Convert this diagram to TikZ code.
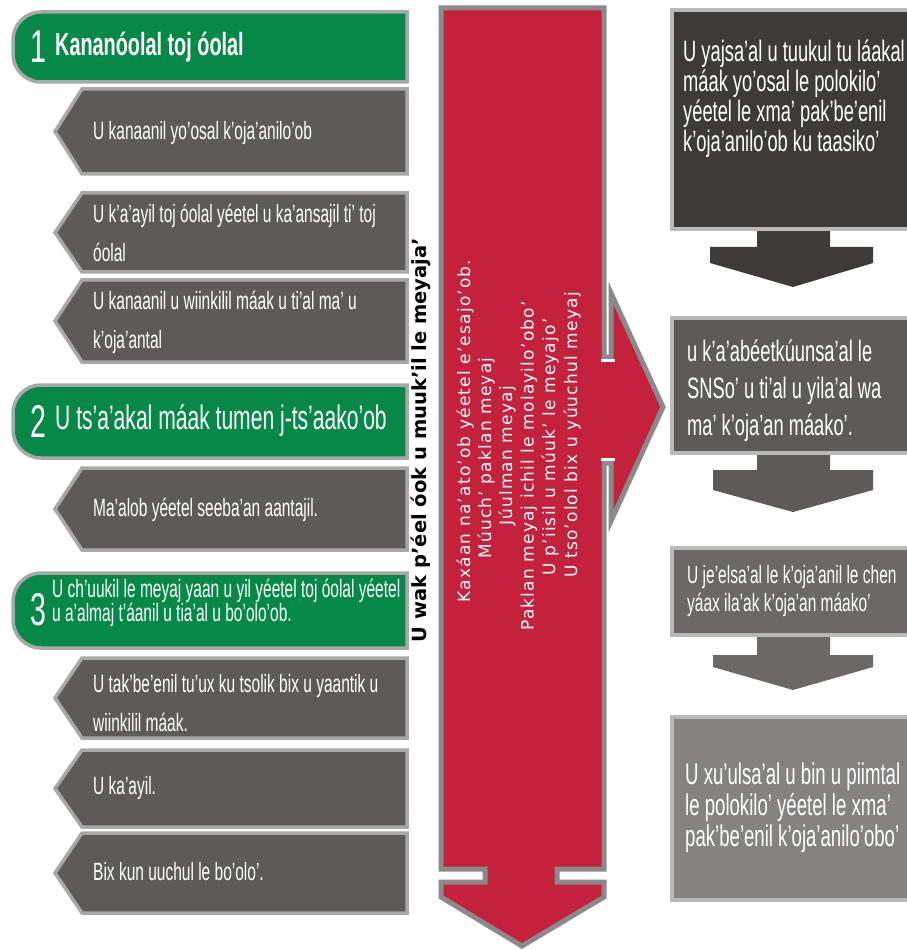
\documentclass[tikz,border=0pt]{standalone}
\usepackage{fontspec}
\setmainfont{Liberation Sans}
\newfontfamily\narrowf{Liberation Sans}[FakeStretch=0.62]
\newfontfamily\dejaf{DejaVu Sans}
\newfontfamily\dejasp{DejaVu Sans}[LetterSpace=7]
\definecolor{hgreen}{RGB}{6,137,72}
\definecolor{edgegray}{RGB}{168,168,168}
\definecolor{lgray}{RGB}{94,90,89}
\definecolor{redfill}{RGB}{196,33,60}
\definecolor{rededge}{RGB}{138,138,138}
\definecolor{rone}{RGB}{62,58,57}
\definecolor{rtwo}{RGB}{94,90,89}
\definecolor{rthree}{RGB}{108,104,103}
\definecolor{rfour}{RGB}{133,131,130}
\definecolor{redge}{RGB}{185,185,185}
\begin{document}
\begin{tikzpicture}[x=1pt,y=-1pt,
  greenbox/.style={fill=hgreen, draw=edgegray, line width=3.5pt},
  graybox/.style={fill=lgray, draw=edgegray, line width=3.5pt},
  redarrow/.style={fill=redfill, draw=rededge, line width=5pt},
  rbox/.style={draw=redge, line width=3.5pt},
  wtext/.style={text=white, inner sep=0pt, anchor=west, align=left},
  gtext/.style={wtext, font=\narrowf\fontsize{25}{39}\selectfont},
  rtxt/.style={text=white, inner sep=0pt, rotate=90, font=\dejasp\fontsize{17}{19}\selectfont},
  digit/.style={text=white, inner sep=0pt, font=\narrowf\fontsize{46}{46}\selectfont}
]
\useasboundingbox (0,0) rectangle (906,949);
\fill[white] (0,0) rectangle (906,949);

% ---------- left column: green headers ----------
\path[greenbox] (407,12) -- (41,12) arc[start angle=-90,end angle=-180,radius=28] -- (13,54) arc[start angle=180,end angle=90,radius=28] -- (407,82) -- cycle;
\path[greenbox] (407,385) -- (41,385) arc[start angle=-90,end angle=-180,radius=28] -- (13,430) arc[start angle=180,end angle=90,radius=28] -- (407,458) -- cycle;
\path[greenbox] (407,573) -- (41,573) arc[start angle=-90,end angle=-180,radius=28] -- (13,620) arc[start angle=180,end angle=90,radius=28] -- (407,648) -- cycle;

\node[digit] (d1) at (38,47) {1};
\node[wtext, font=\narrowf\bfseries\fontsize{32}{32}\selectfont] (h1) at (55,47) {Kananóolal toj óolal};
\node[digit] (d2) at (38,421) {2};
\node[wtext, font=\narrowf\fontsize{34}{34}\selectfont] (h2) at (55,421) {U ts’a’akal máak tumen j-ts’aako’ob};
\node[digit] (d3) at (38,610) {3};
\node[wtext, font=\narrowf\fontsize{25}{24}\selectfont] (h3) at (52,603) {U ch’uukil le meyaj yaan u yil yéetel toj óolal yéetel\\u a’almaj t’áanil u tia’al u bo’olo’ob.};

% ---------- left column: grey arrow boxes ----------
\path[graybox] (82,89) -- (407,89) -- (407,174) -- (82,174) -- (55,131.5) -- cycle;
\path[graybox] (82,193) -- (407,193) -- (407,272) -- (82,272) -- (55,232.5) -- cycle;
\path[graybox] (82,280) -- (407,280) -- (407,362) -- (82,362) -- (55,321) -- cycle;
\path[graybox] (82,468) -- (407,468) -- (407,550) -- (82,550) -- (55,509) -- cycle;
\path[graybox] (82,658) -- (407,658) -- (407,738) -- (82,738) -- (55,698) -- cycle;
\path[graybox] (82,750) -- (407,750) -- (407,827) -- (82,827) -- (55,788.5) -- cycle;
\path[graybox] (82,833) -- (407,833) -- (407,913) -- (82,913) -- (55,873) -- cycle;

\node[gtext] (g1) at (93,133) {U kanaanil yo’osal k’oja’anilo’ob};
\node[gtext] (g2) at (93,233) {U k’a’ayil toj óolal yéetel u ka’ansajil ti’ toj\\óolal};
\node[gtext] (g3) at (93,322) {U kanaanil u wiinkilil máak u ti’al ma’ u\\k’oja’antal};
\node[gtext] (g4) at (93,510) {Ma’alob yéetel seeba’an aantajil.};
\node[gtext] (g5) at (93,703) {U tak’be’enil tu’ux ku tsolik bix u yaantik u\\wiinkilil máak.};
\node[gtext] (g6) at (93,788) {U ka’ayil.};
\node[gtext] (g7) at (93,872) {Bix kun uuchul le bo’olo’.};

% ---------- vertical title ----------
\node[inner sep=0pt, rotate=90, font=\dejaf\bfseries\fontsize{19.5}{21}\selectfont] (title) at (421,440) {U wak p’éel óok u muuk’il le meyaja’};

% ---------- red arrow ----------
\path[redarrow] (441,8) -- (604,8) -- (604,357) -- (611,357) -- (611,293) -- (663,407) -- (611,521) -- (611,463) -- (604,463) -- (604,869) -- (557,869) -- (557,882) -- (604,882) -- (604,897) -- (522,946) -- (441,897) -- (441,882) -- (485,882) -- (485,869) -- (441,869) -- cycle;
\fill[white] (601,359) rectangle (615,362);
\fill[white] (601,458) rectangle (615,461);

\node[rtxt] (t1) at (465,431) {Kaxáan na’ato’ob yéetel e’esajo’ob.};
\node[rtxt] (t2) at (486,458) {Múuch’ paklan meyaj};
\node[rtxt] (t3) at (507,456) {Júulman meyaj};
\node[rtxt] (t4) at (529,466) {Paklan meyaj ichil le molayilo’obo’};
\node[rtxt] (t5) at (550,447) {U p’iisil u múuk’ le meyajo’};
\node[rtxt] (t6) at (572,435) {U tso’olol bix u yúuchul meyaj};

% ---------- right column ----------
\path[fill=rone] (757,226) -- (830,226) -- (830,247) -- (873,247) -- (873,263) -- (793,287) -- (710,263) -- (710,247) -- (757,247) -- cycle;
\path[rbox, fill=rone] (672,10) rectangle (914,229);
\node[wtext, font=\narrowf\fontsize{29.5}{30}\selectfont] (r1) at (683,99) {U yajsa’al u tuukul tu láakal\\máak yo’osal le polokilo’\\yéetel le xma’ pak’be’enil\\k’oja’anilo’ob ku taasiko’};

\path[fill=rtwo] (757,450) -- (830,450) -- (830,470) -- (873,470) -- (873,490) -- (793,512) -- (713,490) -- (713,470) -- (757,470) -- cycle;
\path[rbox, fill=rtwo] (672,318) rectangle (914,453);
\node[wtext, font=\narrowf\fontsize{29.5}{37}\selectfont] (r2) at (687,391) {u k’a’abéetkúunsa’al le\\SNSo’ u ti’al u yila’al wa\\ma’ k’oja’an máako’.};

\path[fill=rthree] (757,632) -- (830,632) -- (830,655) -- (873,655) -- (873,667) -- (793,690) -- (713,667) -- (713,655) -- (757,655) -- cycle;
\path[rbox, fill=rthree] (672,548) rectangle (914,635);
\node[wtext, font=\narrowf\fontsize{25}{28}\selectfont] (r3) at (687,591) {U je’elsa’al le k’oja’anil le chen\\yáax ila’ak k’oja’an máako’};

\path[rbox, fill=rfour] (672,717) rectangle (914,900);
\node[wtext, font=\narrowf\fontsize{30}{31}\selectfont] (r4) at (685,808) {U xu’ulsa’al u bin u piimtal\\le polokilo’ yéetel le xma’\\pak’be’enil k’oja’anilo’obo’};
\end{tikzpicture}
\end{document}
